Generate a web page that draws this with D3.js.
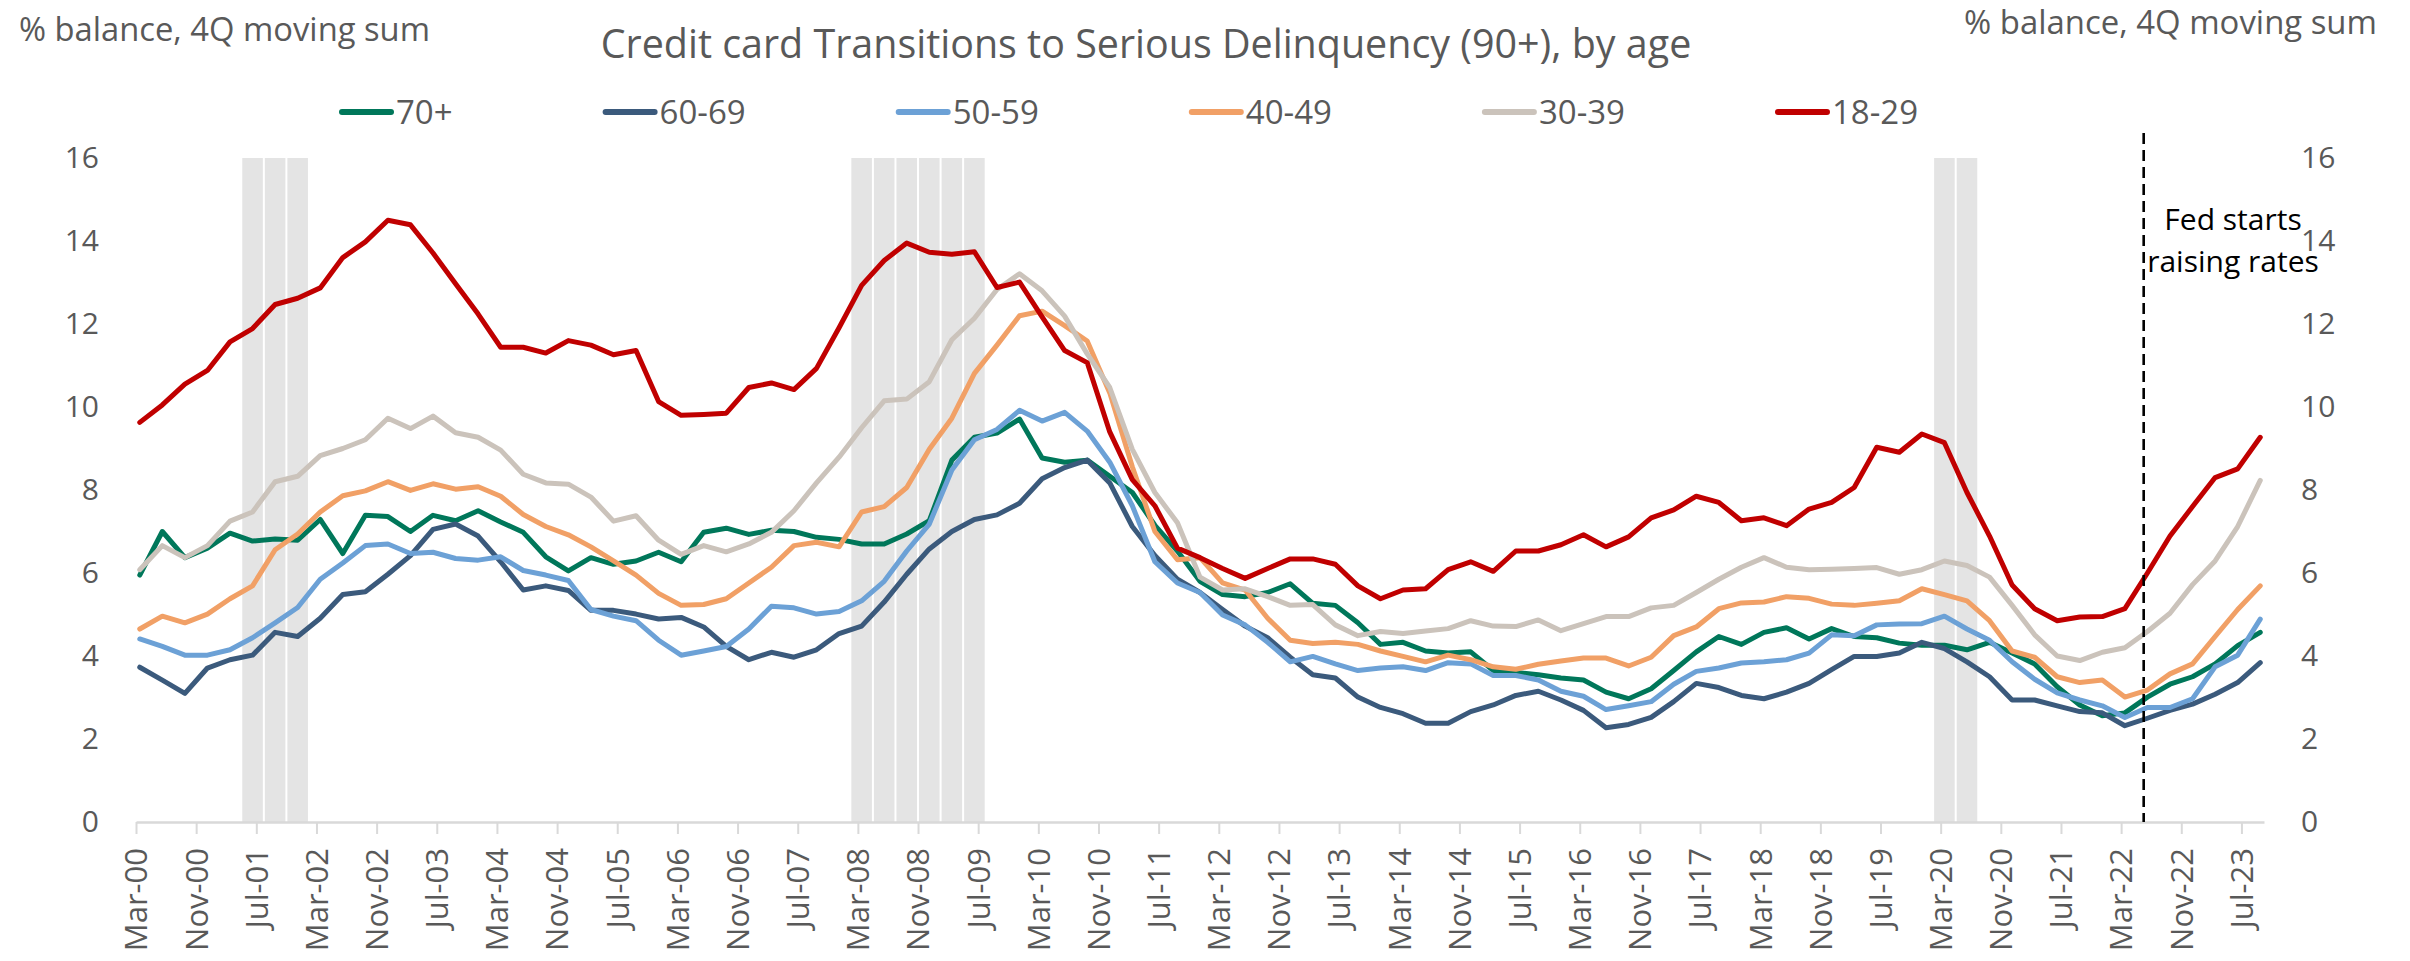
<!DOCTYPE html>
<html>
<head>
<meta charset="utf-8">
<script src="https://cdn.jsdelivr.net/npm/d3@7"></script>
<style>
  body { margin: 0; background: #fff; }
  text { font-family: "Open Sans", sans-serif; }
</style>
</head>
<body>
<svg id="chart" width="2410" height="961"></svg>
<script>
// quarterly, Mar-00 .. Sep-23
var startMonth = new Date(2000, 2, 1);
var quarters = d3.range(95).map(function (i) { return d3.timeMonth.offset(startMonth, 3 * i); });

var age70 = [5.95,7.00,6.37,6.60,6.96,6.77,6.82,6.79,7.29,6.47,7.39,7.36,7.00,7.39,7.26,7.50,7.23,6.98,6.39,6.05,
  6.37,6.21,6.29,6.50,6.27,6.98,7.08,6.93,7.03,7.00,6.86,6.81,6.70,6.70,6.94,7.26,8.72,9.27,9.37,9.71,
  8.77,8.67,8.72,8.33,7.94,7.15,6.53,5.80,5.48,5.43,5.53,5.74,5.27,5.22,4.80,4.28,4.33,4.12,4.07,4.10,
  3.65,3.60,3.55,3.47,3.42,3.13,2.97,3.21,3.65,4.10,4.47,4.28,4.57,4.68,4.41,4.66,4.47,4.44,4.31,4.26,
  4.26,4.15,4.33,4.07,3.81,3.26,2.82,2.56,2.63,3.01,3.32,3.50,3.81,4.25,4.57];
var age60 = [3.73,3.42,3.10,3.71,3.91,4.02,4.57,4.47,4.91,5.48,5.55,5.97,6.42,7.05,7.18,6.89,6.27,5.59,5.69,5.58,
  5.10,5.10,5.01,4.89,4.93,4.70,4.23,3.91,4.09,3.97,4.15,4.54,4.72,5.30,5.97,6.58,7.00,7.29,7.40,7.68,
  8.27,8.54,8.72,8.17,7.12,6.42,5.85,5.53,5.12,4.72,4.44,3.97,3.55,3.47,3.01,2.76,2.61,2.38,2.38,2.66,
  2.82,3.05,3.15,2.94,2.69,2.27,2.35,2.52,2.90,3.34,3.24,3.05,2.97,3.13,3.34,3.67,3.99,3.99,4.07,4.33,
  4.18,3.86,3.50,2.94,2.94,2.80,2.66,2.63,2.32,2.50,2.69,2.84,3.08,3.36,3.84];
var age50 = [4.41,4.23,4.02,4.02,4.15,4.44,4.80,5.17,5.85,6.24,6.66,6.70,6.47,6.50,6.35,6.31,6.39,6.06,5.95,5.82,
  5.12,4.96,4.85,4.38,4.02,4.12,4.23,4.65,5.20,5.16,5.01,5.07,5.33,5.80,6.53,7.18,8.48,9.21,9.46,9.92,
  9.66,9.87,9.42,8.67,7.62,6.27,5.76,5.53,4.99,4.75,4.33,3.86,3.99,3.81,3.65,3.71,3.74,3.65,3.84,3.81,
  3.53,3.53,3.42,3.15,3.03,2.71,2.80,2.90,3.32,3.63,3.71,3.83,3.86,3.91,4.07,4.51,4.49,4.75,4.77,4.78,
  4.96,4.65,4.38,3.86,3.44,3.11,2.94,2.80,2.52,2.76,2.76,2.97,3.74,4.02,4.89];
var age40 = [4.65,4.96,4.80,5.01,5.38,5.69,6.56,6.94,7.47,7.86,7.98,8.20,7.99,8.15,8.02,8.08,7.85,7.41,7.12,6.92,
  6.63,6.29,5.95,5.51,5.22,5.24,5.38,5.76,6.14,6.66,6.74,6.63,7.47,7.60,8.06,8.98,9.73,10.81,11.49,12.20,
  12.31,11.96,11.59,10.34,8.56,7.00,6.32,6.37,5.76,5.59,4.91,4.38,4.30,4.33,4.28,4.12,3.99,3.86,4.02,3.91,
  3.74,3.68,3.80,3.88,3.95,3.95,3.76,3.97,4.49,4.70,5.14,5.28,5.30,5.43,5.39,5.25,5.22,5.27,5.33,5.62,
  5.48,5.33,4.85,4.12,3.97,3.50,3.36,3.42,3.01,3.18,3.57,3.81,4.47,5.12,5.69];
var age30 = [6.08,6.66,6.37,6.66,7.25,7.47,8.20,8.33,8.83,9.00,9.21,9.73,9.48,9.78,9.38,9.27,8.96,8.38,8.17,8.14,
  7.83,7.25,7.38,6.79,6.45,6.66,6.51,6.70,6.98,7.50,8.17,8.79,9.50,10.15,10.19,10.61,11.62,12.14,12.83,13.21,
  12.80,12.19,11.28,10.47,8.98,7.94,7.21,5.90,5.59,5.62,5.43,5.22,5.24,4.75,4.49,4.59,4.54,4.60,4.66,4.85,
  4.72,4.71,4.87,4.61,4.78,4.95,4.95,5.16,5.22,5.53,5.85,6.14,6.37,6.14,6.08,6.09,6.11,6.13,5.97,6.08,
  6.29,6.18,5.90,5.22,4.51,4.00,3.89,4.09,4.20,4.59,5.03,5.72,6.29,7.12,8.23];
var age18 = [9.63,10.05,10.55,10.88,11.57,11.89,12.47,12.62,12.87,13.60,13.98,14.50,14.39,13.71,12.97,12.24,11.44,11.44,11.30,11.60,
  11.49,11.26,11.36,10.13,9.80,9.82,9.85,10.47,10.58,10.42,10.93,11.91,12.93,13.53,13.95,13.73,13.68,13.74,12.88,13.01,
  12.17,11.36,11.07,9.40,8.25,7.62,6.60,6.37,6.11,5.87,6.11,6.34,6.34,6.21,5.69,5.38,5.59,5.62,6.08,6.27,
  6.04,6.53,6.53,6.68,6.92,6.63,6.87,7.33,7.52,7.85,7.70,7.26,7.33,7.14,7.54,7.70,8.06,9.03,8.91,9.35,
  9.14,7.94,6.89,5.71,5.14,4.85,4.94,4.95,5.14,6.00,6.89,7.60,8.30,8.51,9.27];

var seriesNames = ["70+", "60-69", "50-59", "40-49", "30-39", "18-29"];
var seriesValues = [age70, age60, age50, age40, age30, age18];
var seriesColors = ["#00775a", "#3b5a7c", "#6ca1d6", "#f1a066", "#cbc3bb", "#c00000"];

var recessionQuarters = ["Jun-01", "Sep-01", "Dec-01",
  "Mar-08", "Jun-08", "Sep-08", "Dec-08", "Mar-09", "Jun-09",
  "Mar-20", "Jun-20"];
var fedDate = "Jun-22";
var fedLabel = ["Fed starts", "raising rates"];
var yTicks = d3.range(0, 17, 2);
var xTickMonths = d3.range(0, 281, 8);

var titleText = "Credit card Transitions to Serious Delinquency (90+), by age";
var axisTitle = "% balance, 4Q moving sum";

var W = 2410, H = 961;
var margin = { left: 136, right: 146, top: 158, bottom: 139 };
var svg = d3.select("#chart");

var parseQ = d3.timeParse("%b-%y");
var fmt = d3.timeFormat("%b-%y");
var monthOf = function (d) { return d3.timeMonth.count(startMonth, d); };

var x = d3.scaleLinear().domain([0, 283]).range([margin.left, W - margin.right]);
var y = d3.scaleLinear().domain([0, 16]).range([H - margin.bottom, margin.top]);
var grey = "#595959";

// fit a text element to a target width
function fitWidth(sel, w) {
  var fs = parseFloat(sel.attr("font-size"));
  var len = sel.node().getComputedTextLength();
  sel.attr("font-size", (fs * w / len).toFixed(2));
}

// recession shading
var bandW = x(3) - x(0);
svg.append("g").selectAll("rect")
  .data(recessionQuarters)
  .enter().append("rect")
  .attr("x", function (d) { return x(monthOf(parseQ(d)) + 0.5) - bandW / 2 + 1; })
  .attr("y", y(16))
  .attr("width", bandW - 2)
  .attr("height", y(0) - y(16))
  .attr("fill", "#e4e4e4");

// x axis
var xAxis = d3.axisBottom(x)
  .tickValues(xTickMonths)
  .tickSize(12)
  .tickSizeOuter(0)
  .tickFormat(function (m) { return fmt(d3.timeMonth.offset(startMonth, m)); });
var gx = svg.append("g")
  .attr("transform", "translate(0," + y(0) + ")")
  .call(xAxis);
gx.select(".domain").attr("stroke", "#d9d9d9").attr("stroke-width", 2.5);
gx.selectAll(".tick line").attr("stroke", "#d9d9d9").attr("stroke-width", 2);
gx.selectAll(".tick text")
  .attr("font-size", 31)
  .attr("fill", grey)
  .attr("text-anchor", "end")
  .attr("transform", "rotate(-90)")
  .attr("x", -26)
  .attr("y", 0)
  .attr("dy", "0.35em")
  .attr("dx", 0);

// y axes, both sides
var gyl = svg.append("g")
  .attr("transform", "translate(105,0)")
  .call(d3.axisLeft(y).tickValues(yTicks).tickSize(0).tickPadding(6));
var gyr = svg.append("g")
  .attr("transform", "translate(2295,0)")
  .call(d3.axisRight(y).tickValues(yTicks).tickSize(0).tickPadding(6));
[gyl, gyr].forEach(function (g) {
  g.select(".domain").remove();
  g.selectAll("text").attr("font-size", 30).attr("fill", grey);
});

// lines
var line = d3.line()
  .x(function (d, i) { return x(monthOf(quarters[i]) + 0.5); })
  .y(function (d) { return y(d); });
svg.append("g").selectAll("path")
  .data(seriesValues)
  .enter().append("path")
  .attr("d", line)
  .attr("fill", "none")
  .attr("stroke", function (d, i) { return seriesColors[i]; })
  .attr("stroke-width", 5)
  .attr("stroke-linejoin", "round")
  .attr("stroke-linecap", "round");

// Fed marker
var fx = x(monthOf(parseQ(fedDate)));
svg.append("line")
  .attr("x1", fx).attr("x2", fx)
  .attr("y1", 133).attr("y2", y(0))
  .attr("stroke", "#000")
  .attr("stroke-width", 2.6)
  .attr("stroke-dasharray", "11,6");
svg.append("text")
  .attr("x", 2233)
  .attr("y", 230)
  .attr("text-anchor", "middle")
  .attr("font-size", 30)
  .attr("fill", "#000")
  .selectAll("tspan")
  .data(fedLabel)
  .enter().append("tspan")
  .attr("x", 2233)
  .attr("dy", function (d, i) { return i === 0 ? 0 : 42; })
  .text(function (d) { return d; });

// titles
var title = svg.append("text")
  .attr("x", 1146).attr("y", 58)
  .attr("text-anchor", "middle")
  .attr("font-size", 36)
  .attr("fill", grey)
  .text(titleText);
fitWidth(title, 1091);

var lt = svg.append("text")
  .attr("x", 19).attr("y", 41)
  .attr("font-size", 31)
  .attr("fill", grey)
  .text(axisTitle);
fitWidth(lt, 411);
var rt = svg.append("text")
  .attr("x", 2377).attr("y", 34)
  .attr("text-anchor", "end")
  .attr("font-size", 31)
  .attr("fill", grey)
  .text(axisTitle);
fitWidth(rt, 413);

// legend, laid out left to right
var lx = 339;
seriesNames.forEach(function (name, i) {
  var g = svg.append("g").attr("transform", "translate(" + lx + ",112)");
  g.append("line")
    .attr("x1", 3).attr("x2", 52)
    .attr("stroke", seriesColors[i])
    .attr("stroke-width", 6)
    .attr("stroke-linecap", "round");
  var t = g.append("text")
    .attr("x", 57)
    .attr("dy", "0.35em")
    .attr("font-size", 33)
    .attr("fill", grey)
    .text(name);
  lx += 57 + t.node().getComputedTextLength() + 150;
});
</script>
</body>
</html>
